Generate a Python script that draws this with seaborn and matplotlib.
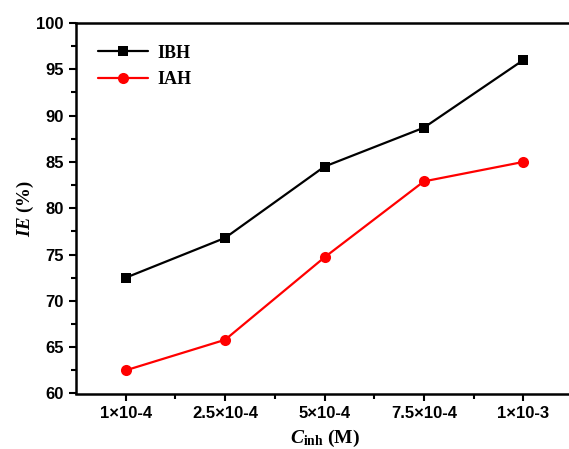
import pandas as pd
import matplotlib.pyplot as plt
import seaborn as sns
from matplotlib.ticker import FixedLocator

conc = ["1×10-4", "2.5×10-4", "5×10-4", "7.5×10-4", "1×10-3"]
ibh = [72.5, 76.8, 84.5, 88.7, 96.0]
iah = [62.5, 65.8, 74.7, 82.9, 85.0]

df = pd.DataFrame({"conc": conc * 2,
                   "IE": ibh + iah,
                   "series": ["IBH"] * 5 + ["IAH"] * 5})

sns.set_theme(style="ticks")
plt.rcParams['font.family'] = ['Liberation Sans', 'DejaVu Sans']
plt.rcParams['text.color'] = 'black'
plt.rcParams['axes.labelcolor'] = 'black'
plt.rcParams['mathtext.fontset'] = 'custom'
plt.rcParams['mathtext.rm'] = 'Liberation Serif:bold'
plt.rcParams['mathtext.it'] = 'Liberation Serif:bold:italic'
plt.rcParams['mathtext.bf'] = 'Liberation Serif:bold'

fig = plt.figure(figsize=(5.69, 4.49), dpi=100)
ax = fig.add_axes([76 / 569, 1 - 393.5 / 449, (573 - 76) / 569, (393.5 - 23) / 449])

sns.lineplot(data=df, x="conc", y="IE", hue="series", style="series",
             palette={"IBH": "black", "IAH": "red"},
             markers={"IBH": "s", "IAH": "o"}, dashes=False,
             markersize=7, linewidth=1.6, markeredgewidth=0, sort=False, ax=ax)
for ln in ax.lines:
    if ln.get_marker() == "o":
        ln.set_markersize(8)

ax.set_xlim(-0.5, 4.5)
ax.set_ylim(60, 100)
ax.set_yticks(range(60, 101, 5))
ax.yaxis.set_minor_locator(FixedLocator([62.5 + 5 * i for i in range(8)]))
ax.xaxis.set_minor_locator(FixedLocator([0.5, 1.5, 2.5, 3.5]))

for s in ax.spines.values():
    s.set_linewidth(1.8)
    s.set_color("black")
ax.tick_params(which="major", direction="out", length=5, width=1.5,
               labelsize=12, colors="black", pad=4)
ax.tick_params(which="minor", direction="out", length=3.5, width=1.5, colors="black")
for lab in ax.get_xticklabels() + ax.get_yticklabels():
    lab.set_fontweight("bold")

serif = ['Liberation Serif', 'DejaVu Serif']
ax.set_xlabel(r"$\mathit{C}_{\mathrm{inh}}$ (M)", family=serif,
              fontsize=14, fontweight="bold", labelpad=5)
ax.set_ylabel(r"$\mathit{IE}$ (%)", family=serif, fontsize=13.5, fontweight="bold",
              labelpad=0)

leg = ax.legend(loc="upper left", bbox_to_anchor=(0.011, 0.985), frameon=False,
                prop={"family": serif, "weight": "bold", "size": 13},
                handlelength=2.8, handletextpad=0.5, labelspacing=0.5)

fig.savefig("out.png", dpi=100)
